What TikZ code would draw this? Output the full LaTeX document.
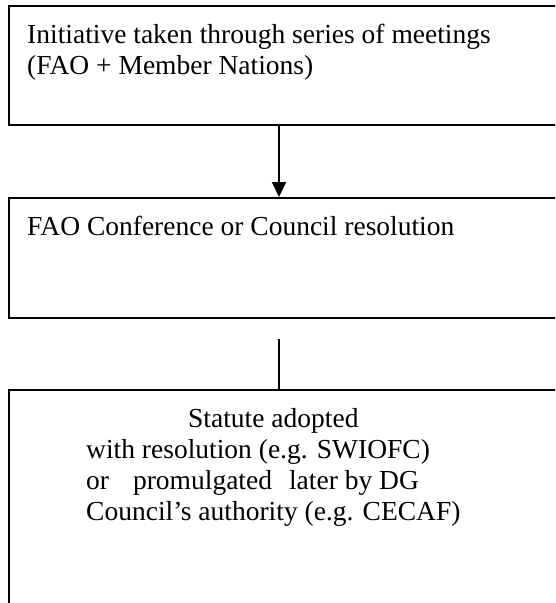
\documentclass[tikz,border=0pt]{standalone}
\usepackage{fontspec}
\setmainfont{Liberation Serif}
\usetikzlibrary{arrows.meta}
\begin{document}
\begin{tikzpicture}[x=1pt,y=-1pt,
  box/.style={draw, line width=1.6pt, rectangle, inner sep=0pt, anchor=north west},
  txt/.style={anchor=base west, inner sep=0pt, font=\fontsize{27.5}{31}\selectfont},
  conn/.style={line width=2pt}]
\useasboundingbox (0,0) rectangle (555,603);
\clip (0,0) rectangle (555,603);
\node[box, minimum width=600pt, minimum height=119pt] (b1) at (8,5) {};
\node[box, minimum width=600pt, minimum height=120pt] (b2) at (8,197) {};
\node[box, minimum width=600pt, minimum height=260pt] (b3) at (8,389) {};
\node[txt] (t1a) at (27,43) {Initiative taken through series of meetings};
\node[txt] (t1b) at (27,74) {(FAO + Member Nations)};
\node[txt] (t2a) at (27,235) {FAO Conference or Council resolution};
\node[txt] (t3a) at (188,427) {Statute adopted};
\node[txt] (t3b) at (86,458) {with resolution (e.g. SWIOFC)};
\node[txt] (t3c) at (86,489) {or\hspace{24pt}promulgated\hspace{17pt}later by DG};
\node[txt] (t3d) at (86,520) {Council’s authority (e.g. CECAF)};
\coordinate (ax) at (279,0);
\coordinate (l2) at (279,339);
\draw[conn,-{Triangle[width=14pt,length=15pt]}] (b1.south -| ax) -- (b2.north -| ax);
\draw[conn] (l2) -- (b3.north -| l2);
\end{tikzpicture}
\end{document}
